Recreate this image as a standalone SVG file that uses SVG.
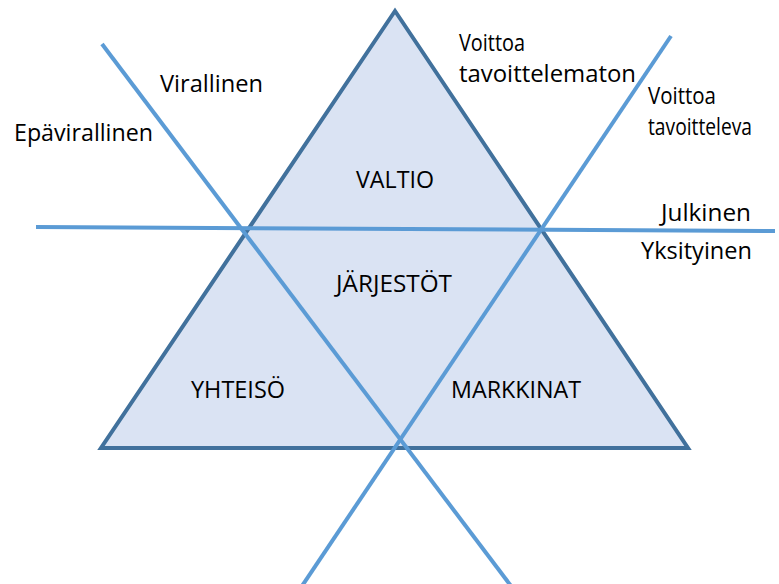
<svg xmlns="http://www.w3.org/2000/svg" width="779" height="584" viewBox="0 0 779 584">
  <style>
    .tri { fill: #dae3f3; stroke: #41719c; stroke-width: 4; stroke-linejoin: miter; }
    .axis { stroke: #5b9bd5; stroke-width: 4; fill: none; }
    text { font-family: "Open Sans", "Liberation Sans", sans-serif; font-size: 23px; fill: #000; }
  </style>
  <rect width="779" height="584" fill="#fff"/>

  <g id="triangle">
    <polygon class="tri" points="395,11 101,448 688,448"/>
  </g>

  <g id="connectors">
    <line class="axis" x1="36" y1="227" x2="775" y2="231"/>
    <line class="axis" x1="102" y1="44" x2="511" y2="586"/>
    <line class="axis" x1="671" y1="36" x2="302" y2="586"/>
  </g>

  <g id="valtio"><text x="356" y="188" textLength="78" lengthAdjust="spacingAndGlyphs">VALTIO</text></g>
  <g id="jarjestot"><text x="336" y="292" textLength="116" lengthAdjust="spacingAndGlyphs">JÄRJESTÖT</text></g>
  <g id="yhteiso"><text x="191" y="398" textLength="94" lengthAdjust="spacingAndGlyphs">YHTEISÖ</text></g>
  <g id="markkinat"><text x="451" y="398" textLength="130" lengthAdjust="spacingAndGlyphs">MARKKINAT</text></g>

  <g id="virallinen"><text x="160" y="92" textLength="103" lengthAdjust="spacingAndGlyphs">Virallinen</text></g>
  <g id="epavirallinen"><text x="14" y="141" textLength="139" lengthAdjust="spacingAndGlyphs">Epävirallinen</text></g>
  <g id="voittoa-tavoittelematon">
    <text x="459" y="51" textLength="66" lengthAdjust="spacingAndGlyphs">Voittoa</text>
    <text x="459" y="82" textLength="177" lengthAdjust="spacingAndGlyphs">tavoittelematon</text>
  </g>
  <g id="voittoa-tavoitteleva">
    <text x="648" y="104" textLength="68" lengthAdjust="spacingAndGlyphs">Voittoa</text>
    <text x="648" y="135" textLength="104" lengthAdjust="spacingAndGlyphs">tavoitteleva</text>
  </g>
  <g id="julkinen"><text x="661" y="221" textLength="90" lengthAdjust="spacingAndGlyphs">Julkinen</text></g>
  <g id="yksityinen"><text x="641" y="259" textLength="111" lengthAdjust="spacingAndGlyphs">Yksityinen</text></g>
</svg>
